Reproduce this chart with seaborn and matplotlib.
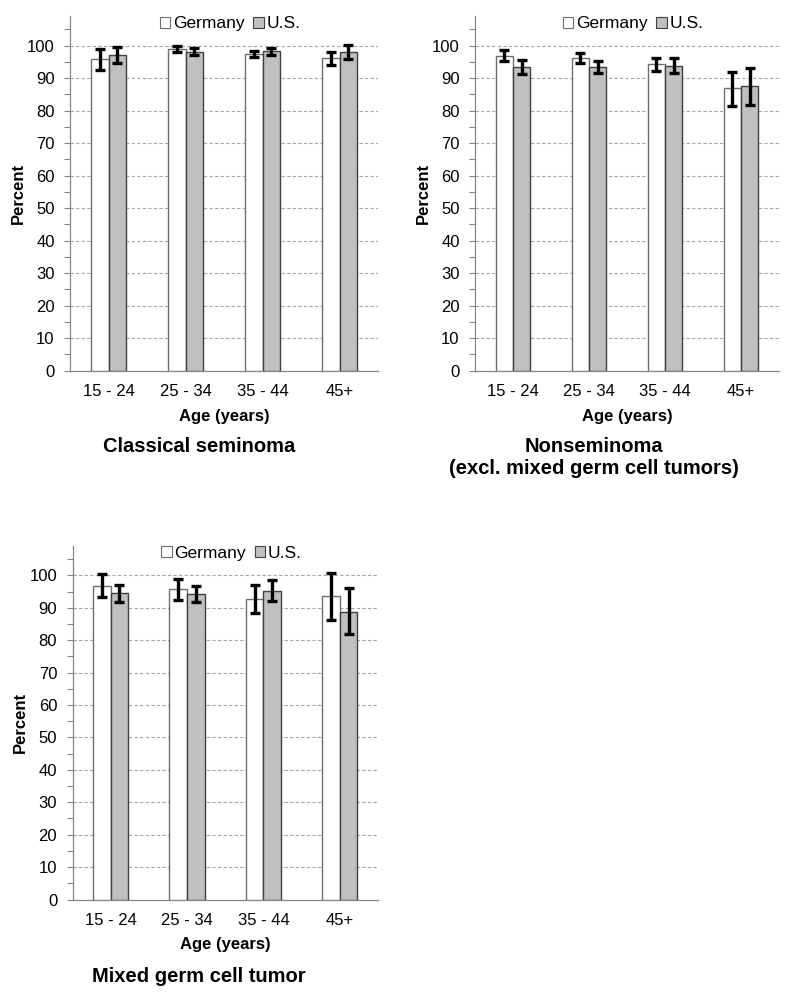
import numpy as np
import pandas as pd
import matplotlib
matplotlib.use("Agg")
import matplotlib.pyplot as plt
from matplotlib.patches import Patch
from matplotlib.ticker import MultipleLocator
import seaborn as sns

ages = ["15 - 24", "25 - 34", "35 - 44", "45+"]
countries = ["Germany", "U.S."]

# Classical seminoma
sem_ger = [95.8, 99.1, 97.4, 96.1]
sem_ger_lo = [92.6, 98.1, 96.5, 94.0]
sem_ger_hi = [99.1, 99.9, 98.5, 98.1]
sem_us = [97.1, 98.2, 98.3, 98.0]
sem_us_lo = [94.7, 97.1, 97.0, 95.9]
sem_us_hi = [99.6, 99.4, 99.4, 100.2]

# Nonseminoma
non_ger = [96.9, 96.3, 94.3, 86.9]
non_ger_lo = [95.3, 94.8, 92.2, 81.5]
non_ger_hi = [98.6, 97.7, 96.3, 92.0]
non_us = [93.4, 93.5, 93.7, 87.5]
non_us_lo = [91.3, 91.7, 91.5, 81.7]
non_us_hi = [95.5, 95.3, 96.2, 93.2]

# Mixed germ cell tumor
mix_ger = [96.8, 95.7, 92.7, 93.5]
mix_ger_lo = [93.4, 92.5, 88.5, 86.2]
mix_ger_hi = [100.4, 98.9, 96.9, 100.6]
mix_us = [94.4, 94.3, 95.2, 88.8]
mix_us_lo = [91.8, 91.7, 92.2, 81.9]
mix_us_hi = [97.0, 96.8, 98.4, 96.1]

titles = ["Classical seminoma",
          "Nonseminoma\n(excl. mixed germ cell tumors)",
          "Mixed germ cell tumor"]

sns.set_style("white")
plt.rcParams['font.family'] = ['Liberation Sans', 'DejaVu Sans']
plt.rcParams['text.color'] = 'black'
plt.rcParams['axes.labelcolor'] = 'black'
plt.rcParams['xtick.color'] = 'black'
plt.rcParams['ytick.color'] = 'black'

W, H = 800, 1002
fig = plt.figure(figsize=(W / 100, H / 100), dpi=100)

def px_axes(left, right, top, bottom):
    return fig.add_axes([left / W, 1 - bottom / H, (right - left) / W, (bottom - top) / H])

YMAX = 109
panels = [
    (px_axes(70, 378, 370.7 - YMAX * 3.25, 370.7),
     (sem_ger, sem_ger_lo, sem_ger_hi, sem_us, sem_us_lo, sem_us_hi), titles[0], (199, 446)),
    (px_axes(475, 779, 370.7 - YMAX * 3.25, 370.7),
     (non_ger, non_ger_lo, non_ger_hi, non_us, non_us_lo, non_us_hi), titles[1], (594, 458)),
    (px_axes(72.5, 378, 899.5 - YMAX * 3.242, 899.5),
     (mix_ger, mix_ger_lo, mix_ger_hi, mix_us, mix_us_lo, mix_us_hi), titles[2], (199, 977)),
]

fill = {"Germany": "#ffffff", "U.S.": "#c0c0c0"}
edge = {"Germany": "#6e6e6e", "U.S.": "#404040"}

for ax, (g, glo, ghi, u, ulo, uhi), title, (tx, ty) in panels:
    df = pd.DataFrame({
        "Age": ages * 2,
        "Country": ["Germany"] * 4 + ["U.S."] * 4,
        "Percent": g + u,
    })
    sns.barplot(data=df, x="Age", y="Percent", hue="Country", order=ages,
                hue_order=countries, palette=fill, width=0.46, ax=ax,
                errorbar=None, legend=False, zorder=3, linewidth=1.0)
    for ci, c in enumerate(countries):
        for p in ax.containers[ci]:
            p.set_edgecolor(edge[c])
            p.set_linewidth(1.0)
    # error bars
    for ci, (vals, lo, hi) in enumerate([(g, glo, ghi), (u, ulo, uhi)]):
        xs = [p.get_x() + p.get_width() / 2 for p in ax.containers[ci]]
        vals = np.array(vals); lo = np.array(lo); hi = np.array(hi)
        ax.errorbar(xs, vals, yerr=[vals - lo, hi - vals], fmt="none",
                    ecolor="black", elinewidth=2.4, capsize=3.5, capthick=2.4,
                    zorder=5)
    ax.set_ylim(0, YMAX)
    ax.set_xlim(-0.5, 3.5)
    ax.set_yticks(np.arange(0, 101, 10))
    ax.yaxis.set_minor_locator(MultipleLocator(5))
    ax.set_xticks(range(4))
    ax.set_xticklabels(ages)
    ax.set_xticks(np.arange(-0.5, 4.0, 1.0), minor=True)
    for yv in range(10, 101, 10):
        ax.axhline(yv, color="#a6a6a6", linestyle=(0, (3, 2)), linewidth=0.8, zorder=1)
    ax.tick_params(axis="x", which="major", length=0, pad=9.5, labelsize=12, colors="black")
    ax.tick_params(axis="x", which="minor", length=5, width=0.8, color="#868686", direction="out")
    ax.tick_params(axis="y", which="major", length=4, width=0.8, color="#868686",
                   direction="out", pad=7, labelsize=12, left=True, labelcolor="black")
    ax.tick_params(axis="y", which="minor", length=4, width=0.8, color="#868686",
                   direction="out", left=True)
    for s in ["top", "right"]:
        ax.spines[s].set_visible(False)
    for s in ["left", "bottom"]:
        ax.spines[s].set_color("#868686")
        ax.spines[s].set_linewidth(0.9)
    ax.set_xlabel("Age (years)", fontsize=12, fontweight="bold", labelpad=7)
    ax.set_ylabel("Percent", fontsize=12, fontweight="bold", labelpad=1)
    handles = [Patch(facecolor=fill[c], edgecolor=edge[c], linewidth=0.8, label=c) for c in countries]
    ax.legend(handles=handles, loc="upper center", bbox_to_anchor=(0.52, 1.02), ncol=2,
              frameon=False, fontsize=12.5, handlelength=0.6, handleheight=0.6,
              handletextpad=0.15, columnspacing=0.5, borderaxespad=0)
    fig.text(tx / W, 1 - ty / H, title, ha="center", va="center", fontsize=14.5,
             fontweight="bold", linespacing=1.2)

fig.savefig("out.png", dpi=100)
